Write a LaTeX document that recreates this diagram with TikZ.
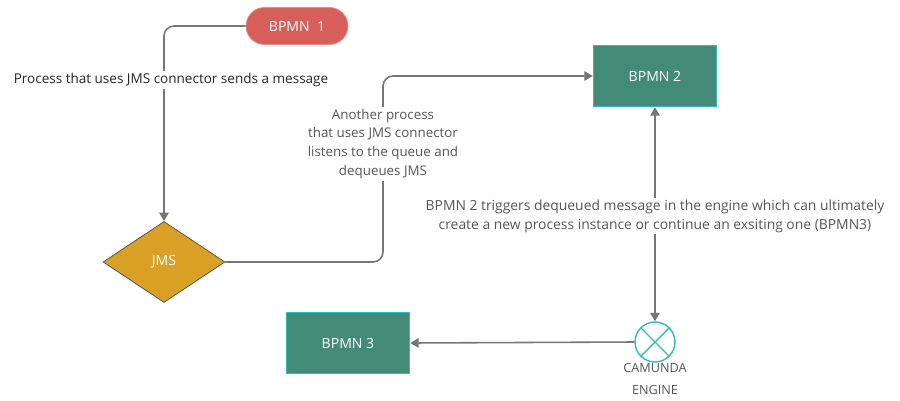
\documentclass[tikz,border=0pt]{standalone}
\usepackage{fontspec}
\setmainfont{Open Sans}
\usetikzlibrary{positioning,arrows.meta,shapes.geometric}
\definecolor{pillred}{RGB}{214,95,90}
\definecolor{pilledge}{RGB}{240,135,128}
\definecolor{jmsgold}{RGB}{218,160,38}
\definecolor{taskgreen}{RGB}{66,139,118}
\definecolor{taskedge}{RGB}{45,190,190}
\definecolor{linegray}{RGB}{118,118,118}
\definecolor{textgray}{RGB}{85,85,85}

\begin{document}
\begin{tikzpicture}[x=0.02cm,y=-0.02cm,
  every node/.style={font=\fontsize{7.6}{10.8}\selectfont},
  pill/.style={draw=pilledge,fill=pillred,text=white,rounded corners=0.37cm,minimum width=2.04cm,minimum height=0.74cm,font=\fontsize{8}{10}\selectfont},
  gate/.style={diamond,draw=black!70,fill=jmsgold,text=white,minimum width=2.44cm,minimum height=1.62cm,inner sep=0pt,font=\fontsize{8}{10}\selectfont},
  task/.style={draw=taskedge,fill=taskgreen,text=white,line width=0.8pt,minimum width=2.46cm,minimum height=1.22cm,font=\fontsize{8}{10}\selectfont},
  engine/.style={circle,draw=taskedge,line width=0.8pt,minimum size=0.8cm,inner sep=0pt},
  conn/.style={draw=linegray,line width=0.9pt,rounded corners=0.2cm,-{Triangle[width=0.19cm,length=0.17cm]}},
  note/.style={fill=white,align=center,text=textgray,inner sep=1pt}]
\useasboundingbox (0,0) rectangle (900,400);
\node[pill] (bpmn1) at (297,26) {BPMN\ \ 1};
\node[gate] (jms) at (164,262) {JMS};
\node[task] (bpmn2) at (655,76) {BPMN 2};
\node[task] (bpmn3) at (348,343) {BPMN 3};
\node[engine] (cam) at (655,342) {};
\draw[taskedge,line width=0.8pt] (cam.north west)--(cam.south east) (cam.north east)--(cam.south west);
\node[below=-1pt of cam,align=center,text=textgray,inner sep=1pt,font=\fontsize{7.2}{12.4}\selectfont] (camlbl) {CAMUNDA\\ENGINE};
\coordinate (bend) at (383,262);
\draw[conn] (bpmn1.west) -| (jms.north);
\draw[conn] (jms.east) -| (bend |- bpmn2.west) -- (bpmn2.west);
\draw[conn,{Triangle[width=0.19cm,length=0.17cm]}-{Triangle[width=0.19cm,length=0.17cm]}] (bpmn2.south) -- (cam.north);
\draw[conn] (cam.west) -- (bpmn3.east);
\node[note,text=black!85,font=\fontsize{7.7}{10.8}\selectfont] (lbl1) at (171,80) {Process that uses JMS connector sends a message};
\node[note] (lbl2) at (383,144) {Another process\\that uses JMS connector\\listens to the queue and\\dequeues JMS};
\node[note,font=\fontsize{7.9}{10.8}\selectfont] (lbl3) at (655,216) {BPMN 2 triggers dequeued message in the engine which can ultimately\\create a new process instance or continue an exsiting one (BPMN3)};
\end{tikzpicture}
\end{document}
